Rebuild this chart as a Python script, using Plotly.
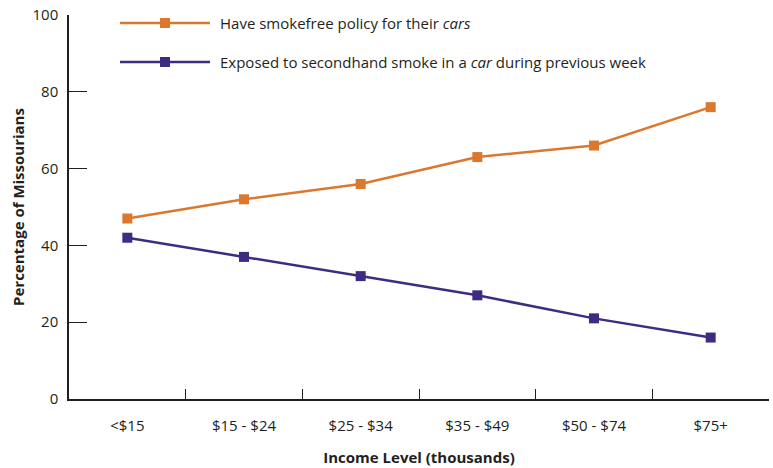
import plotly.graph_objects as go

categories = ["<$15", "$15 - $24", "$25 - $34", "$35 - $49", "$50 - $74", "$75+"]
smokefree_policy = [47, 52, 56, 63, 66, 76]
exposed_in_car = [42, 37, 32, 27, 21, 16]
y_ticks = [0, 20, 40, 60, 80, 100]

orange = "#DB782E"
purple = "#3F2B82"
axis_col = "#231F20"
font_family = "Open Sans, Lato, sans-serif"

fig = go.Figure()
fig.add_trace(go.Scatter(x=categories, y=smokefree_policy, mode="lines+markers",
                         line=dict(color=orange, width=2.5),
                         marker=dict(symbol="square", size=10, color=orange),
                         name="Have smokefree policy for their <i>cars</i>", showlegend=False))
fig.add_trace(go.Scatter(x=categories, y=exposed_in_car, mode="lines+markers",
                         line=dict(color=purple, width=2.5),
                         marker=dict(symbol="square", size=10, color=purple),
                         name="Exposed to secondhand smoke in a <i>car</i> during previous week", showlegend=False))

W, H = 773, 468
L, R, T, B = 69, 4, 15, 69
pw, ph = W - L - R, H - T - B

def px(x):
    return (x - L) / pw

def py(y):
    return (H - B - y) / ph

shapes = []
annotations = []
legend_items = [("Have smokefree policy for their <i>cars</i>", orange, 23),
                ("Exposed to secondhand smoke in a <i>car</i> during previous week", purple, 62)]
for text, col, yy in legend_items:
    shapes.append(dict(type="line", xref="paper", yref="paper",
                       x0=px(120), x1=px(210), y0=py(yy), y1=py(yy),
                       line=dict(color=col, width=2.5)))
    shapes.append(dict(type="rect", xref="paper", yref="paper",
                       x0=px(160), x1=px(170), y0=py(yy - 5), y1=py(yy + 5),
                       fillcolor=col, line=dict(width=0)))
    annotations.append(dict(text=text, xref="paper", yref="paper", x=px(218), y=py(yy),
                            xanchor="left", yanchor="middle", showarrow=False,
                            font=dict(size=15, color=axis_col, family=font_family)))

fig.update_layout(
    width=W, height=H,
    margin=dict(l=L, r=R, t=T, b=B, autoexpand=False),
    plot_bgcolor="white", paper_bgcolor="white",
    font=dict(family=font_family, size=15, color=axis_col),
    shapes=shapes, annotations=annotations,
    xaxis=dict(type="category", range=[-0.5, 5.5], showline=True, linecolor=axis_col, linewidth=1.5,
               ticks="inside", tickson="boundaries", ticklen=10, tickcolor=axis_col, tickwidth=1.2,
               showgrid=False, zeroline=False, ticklabelstandoff=12, automargin=False,
               tickfont=dict(size=15, color=axis_col),
               title=dict(text="<b>Income Level (thousands)</b>", font=dict(size=15, color=axis_col), standoff=19)),
    yaxis=dict(range=[0, 100], tickvals=y_ticks, showline=True, linecolor=axis_col, linewidth=1.5,
               ticks="inside", ticklen=18, tickcolor=axis_col, tickwidth=1.2,
               showgrid=False, zeroline=False, ticklabelstandoff=6, automargin=False,
               tickfont=dict(size=15, color=axis_col),
               title=dict(text="<b>Percentage of Missourians</b>", font=dict(size=15, color=axis_col), standoff=4)),
)

fig.write_html("out.html", config={"displayModeBar": False},
               post_script="document.body.style.margin='0';document.body.style.overflow='hidden';")
